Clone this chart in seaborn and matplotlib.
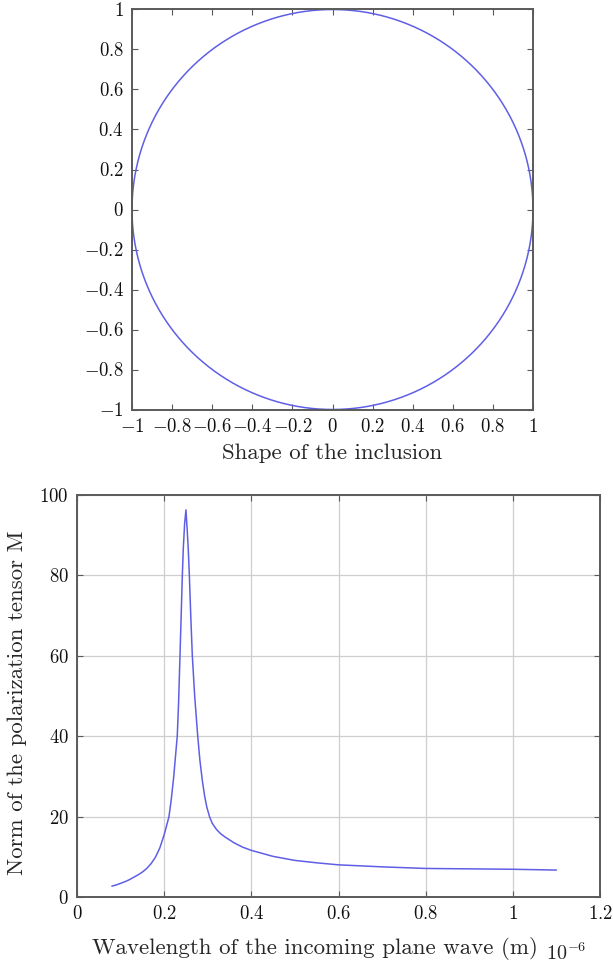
import numpy as np
import pandas as pd
import matplotlib
matplotlib.use("Agg")
import matplotlib.pyplot as plt
import seaborn as sns

# ---------------- data ----------------
# Top panel: shape of the inclusion (a disc)
inclusion_center_x = 0.0
inclusion_center_y = 0.0
inclusion_radius = 1.0
shape_ticks = [-1, -0.8, -0.6, -0.4, -0.2, 0, 0.2, 0.4, 0.6, 0.8, 1]
shape_tick_labels = ["$-1$", "$-0.8$", "$-0.6$", "$-0.4$", "$-0.2$", "$0$",
                     "$0.2$", "$0.4$", "$0.6$", "$0.8$", "$1$"]

# Bottom panel: norm of the polarization tensor vs wavelength (x in 1e-6 m)
wavelength = [0.08, 0.09, 0.10, 0.11, 0.12, 0.13, 0.14, 0.15, 0.16, 0.17,
              0.18, 0.19, 0.20, 0.205, 0.211, 0.216, 0.222, 0.226, 0.230,
              0.233, 0.2363, 0.239, 0.2417, 0.244, 0.247, 0.250,
              0.253, 0.2555, 0.2578, 0.261, 0.2646, 0.270, 0.277, 0.282,
              0.2875, 0.293, 0.298, 0.304, 0.31, 0.32, 0.33, 0.34, 0.35,
              0.36, 0.38, 0.40, 0.45, 0.50, 0.55, 0.60, 0.70, 0.80, 0.90,
              1.00, 1.10]
norm_M = [2.7, 3.0, 3.4, 3.8, 4.3, 4.9, 5.5, 6.2, 7.1, 8.3,
          9.9, 12.2, 15.5, 17.5, 20.0, 24.0, 30.0, 35.0, 40.0,
          48.0, 60.0, 70.0, 80.0, 87.0, 93.0, 96.3,
          91.0, 86.0, 80.0, 70.0, 60.0, 50.0, 40.0, 34.0,
          29.0, 25.0, 22.3, 20.0, 18.4, 16.8, 15.7, 14.9, 14.2,
          13.5, 12.4, 11.6, 10.1, 9.1, 8.5, 8.0, 7.5, 7.1, 7.0,
          6.9, 6.7]
wl_ticks = [0, 0.2, 0.4, 0.6, 0.8, 1.0, 1.2]
wl_tick_labels = ["$0$", "$0.2$", "$0.4$", "$0.6$", "$0.8$", "$1$", "$1.2$"]
norm_ticks = [0, 20, 40, 60, 80, 100]
norm_tick_labels = ["$0$", "$20$", "$40$", "$60$", "$80$", "$100$"]

# ---------------- style ----------------
sns.set_theme(style="ticks")
plt.rcParams["font.family"] = ["cmr10", "DejaVu Serif"]
plt.rcParams["mathtext.fontset"] = "cm"
plt.rcParams["axes.formatter.use_mathtext"] = True
plt.rcParams["axes.unicode_minus"] = True

line_color = "#5f5fe6"
spine_color = "#5a5a5a"
tick_fs = 13.5
label_fs = 16.5

fig = plt.figure(figsize=(6.13, 9.66), dpi=100)
W, H = 613.0, 966.0
ax1 = fig.add_axes([132 / W, 1 - 409.5 / H, 401 / W, 400 / H])
ax2 = fig.add_axes([77 / W, 1 - 897 / H, 523 / W, 402 / H])

# ---- top: circle ----
theta = np.linspace(0, 2 * np.pi, 721)
circle_df = pd.DataFrame({
    "x": inclusion_center_x + inclusion_radius * np.cos(theta),
    "y": inclusion_center_y + inclusion_radius * np.sin(theta),
})
sns.lineplot(data=circle_df, x="x", y="y", sort=False, ax=ax1,
             color=line_color, linewidth=1.1, estimator=None)
ax1.set_xlim(-1, 1)
ax1.set_ylim(-1, 1)
ax1.set_xticks(shape_ticks, shape_tick_labels)
ax1.set_yticks(shape_ticks, shape_tick_labels)
ax1.set_xlabel("Shape of the inclusion", fontsize=label_fs)
ax1.xaxis.set_label_coords(0.5, -(453 - 409.5) / 400)
ax1.xaxis.label.set_va("center")
ax1.set_ylabel("")

# ---- bottom: resonance curve ----
res_df = pd.DataFrame({"wavelength": wavelength, "norm": norm_M})
sns.lineplot(data=res_df, x="wavelength", y="norm", ax=ax2,
             color=line_color, linewidth=1.1, estimator=None)
ax2.set_xlim(0, 1.2)
ax2.set_ylim(0, 100)
ax2.set_xticks(wl_ticks, wl_tick_labels)
ax2.set_yticks(norm_ticks, norm_tick_labels)
ax2.grid(True, color="#cfcfcf", linewidth=0.9)
ax2.set_axisbelow(True)
ax2.set_xlabel("Wavelength of the incoming plane wave (m)", fontsize=label_fs)
ax2.set_ylabel("Norm of the polarization tensor M", fontsize=label_fs)
ax2.xaxis.set_label_coords((314.5 - 77) / 523, -(949 - 897) / 402)
ax2.xaxis.label.set_va("center")
ax2.yaxis.set_label_coords(-(77 - 17) / 523, (897 - 703) / 402)
ax2.yaxis.label.set_va("center")
ax2.text((566 - 77) / 523, -(953 - 897) / 402, r"$10^{-6}$",
         transform=ax2.transAxes, fontsize=tick_fs + 1, ha="center", va="center")

for ax in (ax1, ax2):
    for sp in ax.spines.values():
        sp.set_visible(True)
        sp.set_color(spine_color)
        sp.set_linewidth(1.4)
    ax.tick_params(axis="both", which="both", direction="in", length=4,
                   width=0.8, color=spine_color, top=True, right=True,
                   labelsize=tick_fs, labelcolor="#111111", pad=6)

fig.savefig("out.png", dpi=100, facecolor="white")
